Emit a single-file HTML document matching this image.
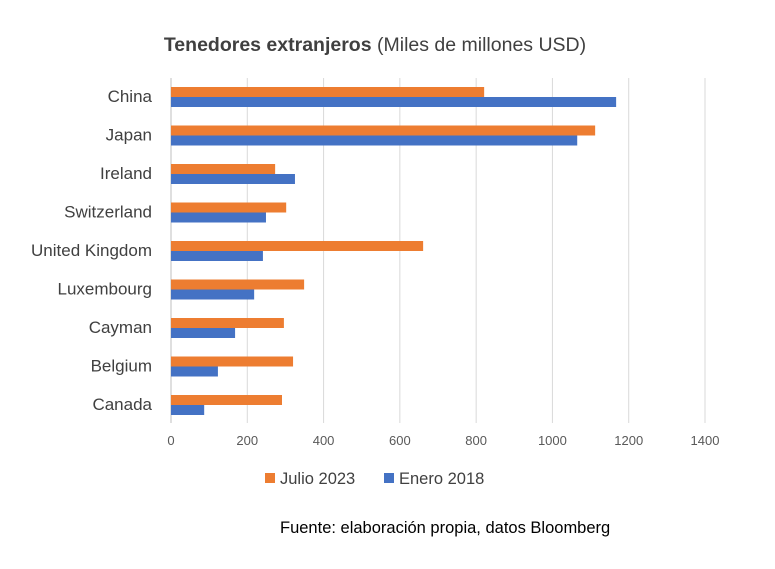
<!DOCTYPE html>
<html><head><meta charset="utf-8"><style>
body{margin:0;background:#fff;font-family:"Liberation Sans",Arial,sans-serif;}
svg text{font-family:"Liberation Sans",Arial,sans-serif;}
</style></head><body>
<svg width="775" height="564">
<text x="375" y="51" text-anchor="middle" font-size="19.5" fill="#404040"><tspan font-weight="bold">Tenedores extranjeros</tspan> (Miles de millones USD)</text>
<g id="grid"></g><g id="bars"></g><g id="labels"></g>
<g>
<rect x="265" y="473" width="10" height="10" fill="#ED7D31"/>
<text x="280" y="484" font-size="16.5" fill="#404040">Julio 2023</text>
<rect x="384" y="473" width="10" height="10" fill="#4472C4"/>
<text x="399" y="484" font-size="16.5" fill="#404040">Enero 2018</text>
</g>
<text x="280" y="533" font-size="16.5" fill="#000">Fuente: elaboración propia, datos Bloomberg</text>
</svg>
<script>
const categories=["China","Japan","Ireland","Switzerland","United Kingdom","Luxembourg","Cayman","Belgium","Canada"];
const julio2023=[821,1112,273,302,661,349,296,320,291];
const enero2018=[1167,1065,325,249,241,218,168,123,87];
const ticks=[0,200,400,600,800,1000,1200,1400];
const NS="http://www.w3.org/2000/svg";
const x0=171,x1=705,xmax=1400;
const xs=v=>x0+v/xmax*(x1-x0);
const rowY=i=>96+i*38.5;
const grid=document.getElementById('grid'),bars=document.getElementById('bars'),labels=document.getElementById('labels');
function mk(t,a,p){const e=document.createElementNS(NS,t);for(const k in a)e.setAttribute(k,a[k]);p.appendChild(e);return e;}
ticks.forEach(t=>{
 const l=mk('line',{x1:xs(t),x2:xs(t),y1:78,y2:423,stroke:t===0?'#BFBFBF':'#D9D9D9','stroke-width':1},grid);
 
 
 const tx=mk('text',{x:xs(t),y:445,'text-anchor':'middle','font-size':13,fill:'#595959'},labels);
 tx.textContent=t;
 
 
});
categories.forEach((c,i)=>{
 const y=rowY(i);
 const o=mk('rect',{x:x0,y:y-9,width:xs(julio2023[i])-x0,height:10,fill:'#ED7D31'},bars);
 
 
 const b=mk('rect',{x:x0,y:y+1,width:xs(enero2018[i])-x0,height:10,fill:'#4472C4'},bars);
 
 
 const t=mk('text',{x:152,y:y+6,'text-anchor':'end','font-size':17,fill:'#404040'},labels);
 t.textContent=c;
 
 
});
</script>
</body></html>
